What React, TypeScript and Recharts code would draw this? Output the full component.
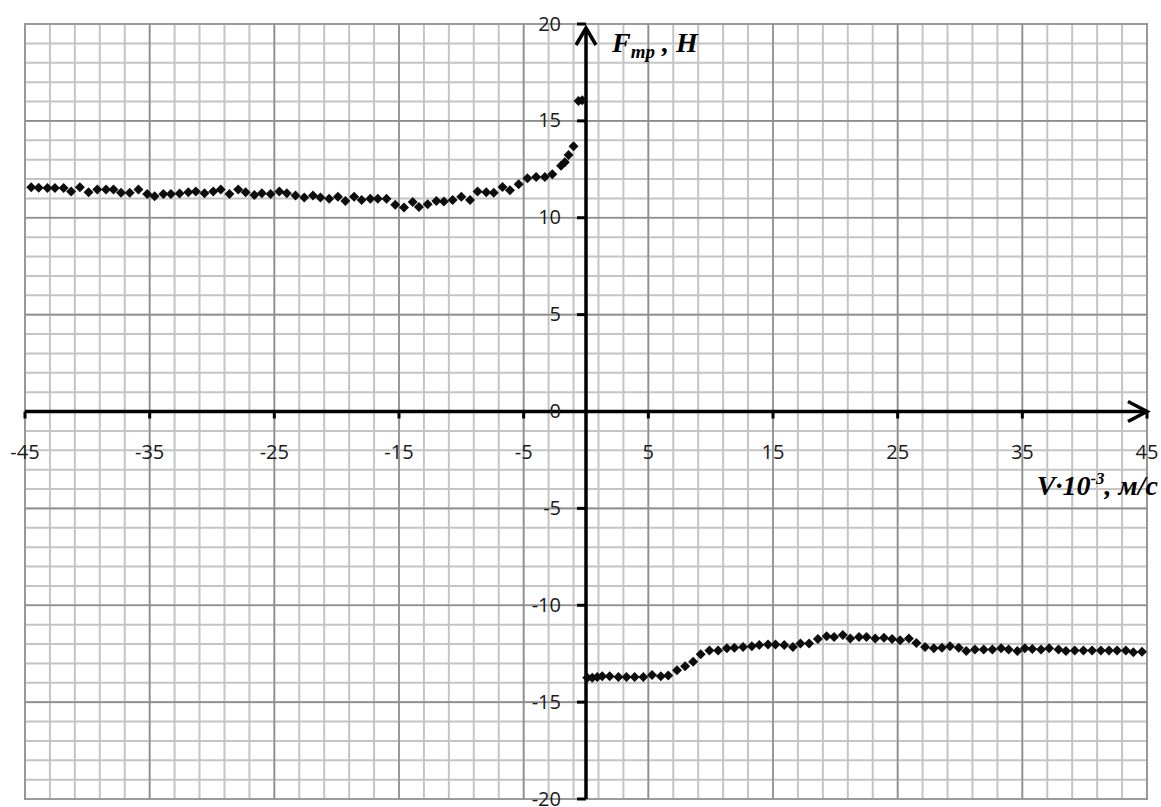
import React from 'react';
import { ScatterChart, Scatter, XAxis, YAxis, ReferenceLine, ReferenceDot, ReferenceArea } from 'recharts';

// Negative-velocity branch (V·10^-3, m/s ; F, N)
const leftV = [
  -44.5, -43.9, -43.2, -42.6, -41.9, -41.3, -40.6, -39.9, -39.2, -38.5, -37.9, -37.3,
  -36.6, -35.9, -35.2, -34.6, -33.9, -33.3, -32.6, -31.9, -31.3, -30.6, -29.9, -29.3,
  -28.6, -27.9, -27.3, -26.6, -26.0, -25.3, -24.6, -24.0, -23.3, -22.6, -21.9, -21.3,
  -20.6, -19.9, -19.3, -18.6, -18.0, -17.3, -16.7, -16.0, -15.3, -14.6, -13.9, -13.4,
  -12.7, -12.0, -11.4, -10.7, -10.0, -9.3, -8.7, -8.0, -7.4, -6.7, -6.1, -5.4,
  -4.7, -4.0, -3.3, -2.7, -2.0, -1.7, -1.4, -1.0, -0.6, -0.3,
];
const leftF = [
  11.58, 11.55, 11.53, 11.53, 11.53, 11.35, 11.58, 11.32, 11.46, 11.46, 11.46, 11.29,
  11.29, 11.46, 11.22, 11.11, 11.22, 11.22, 11.25, 11.32, 11.35, 11.27, 11.35, 11.46,
  11.22, 11.46, 11.32, 11.18, 11.27, 11.22, 11.35, 11.27, 11.15, 11.05, 11.15, 11.05,
  10.98, 11.08, 10.87, 11.08, 10.91, 10.98, 10.98, 10.98, 10.67, 10.53, 10.81, 10.56,
  10.7, 10.87, 10.84, 10.91, 11.08, 10.91, 11.35, 11.32, 11.29, 11.59, 11.42, 11.73,
  12.04, 12.1, 12.1, 12.25, 12.68, 12.87, 13.24, 13.69, 16.03, 16.06,
];

// Positive-velocity branch
const rightV = [
  0.1, 0.5, 0.9, 1.3, 1.9, 2.6, 3.25, 3.9, 4.6, 5.3, 6.0, 6.6,
  7.3, 7.95, 8.6, 9.2, 9.9, 10.6, 11.3, 11.9, 12.6, 13.3, 13.9, 14.6,
  15.2, 15.9, 16.6, 17.2, 17.9, 18.6, 19.3, 19.9, 20.6, 21.2, 21.9, 22.5,
  23.2, 23.9, 24.55, 25.2, 25.9, 26.5, 27.2, 27.9, 28.55, 29.2, 29.9, 30.5,
  31.2, 31.9, 32.6, 33.3, 33.9, 34.6, 35.2, 35.8, 36.5, 37.15, 37.9, 38.5,
  39.2, 39.9, 40.6, 41.3, 41.95, 42.6, 43.3, 43.9, 44.6,
];
const rightF = [
  -13.74, -13.74, -13.7, -13.67, -13.67, -13.7, -13.7, -13.7, -13.7, -13.6, -13.67, -13.63,
  -13.36, -13.15, -12.91, -12.53, -12.33, -12.33, -12.22, -12.19, -12.16, -12.12, -12.05, -12.02,
  -12.02, -12.05, -12.16, -11.98, -11.98, -11.74, -11.6, -11.64, -11.54, -11.71, -11.64, -11.64,
  -11.71, -11.68, -11.74, -11.81, -11.71, -11.95, -12.16, -12.22, -12.19, -12.12, -12.19, -12.36,
  -12.29, -12.29, -12.29, -12.22, -12.29, -12.36, -12.22, -12.26, -12.29, -12.22, -12.29, -12.36,
  -12.33, -12.33, -12.33, -12.33, -12.33, -12.33, -12.33, -12.43, -12.4,
];

const xTicks = [-45, -35, -25, -15, -5, 5, 15, 25, 35, 45];
const yTicks = [20, 15, 10, 5, 0, -5, -10, -15, -20];
const xMinorGrid = Array.from({ length: 46 }, (_, i) => -45 + 2 * i);
const yMinorGrid = Array.from({ length: 41 }, (_, i) => -20 + i);

const leftData = leftV.map((v, i) => ({ v, f: leftF[i] }));
const rightData = rightV.map((v, i) => ({ v, f: rightF[i] }));

const TICK_FONT = "'Open Sans', 'Noto Sans', sans-serif";
const TITLE_FONT = "'Liberation Serif', 'DejaVu Serif', serif";

const Diamond = (props: any) => {
  const { cx, cy } = props;
  const s = 5;
  return (
    <path
      d={`M${cx},${cy - s} L${cx + s},${cy} L${cx},${cy + s} L${cx - s},${cy} Z`}
      fill="#0d0d0d"
    />
  );
};

const XAxisShape = (props: any) => {
  const { x1, y1, x2 } = props;
  const left = Math.min(x1, x2);
  const right = Math.max(x1, x2);
  const y = y1;
  return (
    <g>
      <line x1={left} y1={y} x2={right} y2={y} stroke="#000" strokeWidth={3.5} />
      <polyline
        points={`${right - 19},${y - 10} ${right},${y} ${right - 19},${y + 10}`}
        fill="none"
        stroke="#000"
        strokeWidth={3.5}
        strokeLinejoin="miter"
      />
      <text
        x={right + 11}
        y={y + 83}
        textAnchor="end"
        fontFamily={TITLE_FONT}
        fontWeight="bold"
        fontStyle="italic"
        fontSize={28}
        fill="#000"
      >
        V·10
        <tspan fontSize={17} dy={-11}>-3</tspan>
        <tspan dy={11}>, м/с</tspan>
      </text>
    </g>
  );
};

const YAxisShape = (props: any) => {
  const { x1, y1, y2 } = props;
  const top = Math.min(y1, y2);
  const bottom = Math.max(y1, y2);
  const x = x1;
  const tip = top + 4;
  return (
    <g>
      <line x1={x} y1={bottom} x2={x} y2={tip} stroke="#000" strokeWidth={3.5} />
      <polyline
        points={`${x - 10},${tip + 17} ${x},${tip} ${x + 10},${tip + 17}`}
        fill="none"
        stroke="#000"
        strokeWidth={3.5}
      />
      <text
        x={x + 26}
        y={top + 28}
        fontFamily={TITLE_FONT}
        fontWeight="bold"
        fontStyle="italic"
        fontSize={28}
        fill="#000"
      >
        F
        <tspan fontSize={19} dy={6}>тр</tspan>
        <tspan dy={-6}> , Н</tspan>
      </text>
    </g>
  );
};

const makeXTick = (t: number) => (props: any) => {
  const { cx, cy } = props;
  return (
    <g>
      <line x1={cx} y1={cy} x2={cx} y2={cy + 7} stroke="#000" strokeWidth={3} />
      <text
        x={cx}
        y={cy + 40}
        textAnchor="middle"
        dominantBaseline="central"
        fontFamily={TICK_FONT}
        fontSize={20}
        fill="#1a1a1a"
      >
        {t}
      </text>
    </g>
  );
};

const makeYTick = (t: number) => (props: any) => {
  const { cx, cy } = props;
  return (
    <g>
      <line x1={cx - 9} y1={cy} x2={cx} y2={cy} stroke="#000" strokeWidth={3} />
      <text
        x={cx - 25}
        y={cy - 1}
        textAnchor="end"
        dominantBaseline="central"
        fontFamily={TICK_FONT}
        fontSize={20}
        fill="#1a1a1a"
      >
        {t}
      </text>
    </g>
  );
};

export default function App() {
  return (
    <div style={{ position: 'absolute', left: 0, top: 0, width: 1161, height: 807, background: '#fff' }}>
      <ScatterChart
        width={1161}
        height={807}
        margin={{ top: 24, left: 25, right: 14, bottom: 8 }}
      >
        <XAxis type="number" dataKey="v" domain={[-45, 45]} hide allowDataOverflow />
        <YAxis type="number" dataKey="f" domain={[-20, 20]} hide allowDataOverflow />

        {xMinorGrid.map((x) => (
          <ReferenceLine key={`xm${x}`} x={x} stroke="#c4c4c4" strokeWidth={2} ifOverflow="visible" />
        ))}
        {yMinorGrid.map((y) => (
          <ReferenceLine key={`ym${y}`} y={y} stroke="#c4c4c4" strokeWidth={2} ifOverflow="visible" />
        ))}
        {xTicks.map((x) => (
          <ReferenceLine key={`xM${x}`} x={x} stroke="#8e8e8e" strokeWidth={1.6} ifOverflow="visible" />
        ))}
        {yTicks.map((y) => (
          <ReferenceLine key={`yM${y}`} y={y} stroke="#8e8e8e" strokeWidth={1.6} ifOverflow="visible" />
        ))}
        <ReferenceArea
          x1={-45}
          x2={45}
          y1={-20}
          y2={20}
          fill="none"
          fillOpacity={0}
          stroke="#8a8a8a"
          strokeWidth={2}
          ifOverflow="visible"
        />

        <ReferenceLine y={0} shape={XAxisShape} ifOverflow="visible" />
        <ReferenceLine x={0} shape={YAxisShape} ifOverflow="visible" />

        {xTicks.map((t) => (
          <ReferenceDot key={`xt${t}`} x={t} y={0} r={0} shape={makeXTick(t)} ifOverflow="visible" />
        ))}
        {yTicks.map((t) => (
          <ReferenceDot key={`yt${t}`} x={0} y={t} r={0} shape={makeYTick(t)} ifOverflow="visible" />
        ))}

        <Scatter data={leftData} shape={Diamond} isAnimationActive={false} />
        <Scatter data={rightData} shape={Diamond} isAnimationActive={false} />
      </ScatterChart>
    </div>
  );
}
